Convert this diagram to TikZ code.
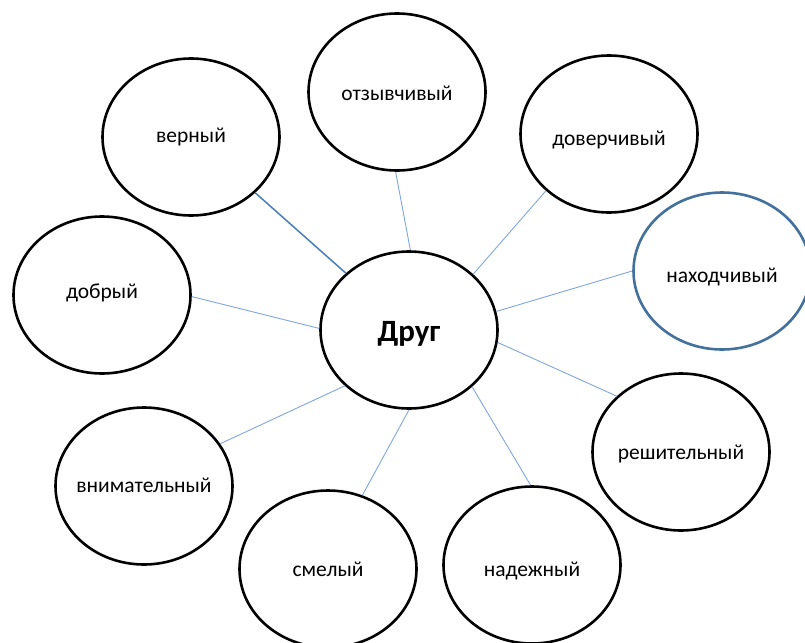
\documentclass[tikz,border=0pt]{standalone}
\usepackage{fontspec}
\setmainfont{Carlito}
\usetikzlibrary{shapes.geometric}
\definecolor{bubbleblue}{HTML}{41719C}
\definecolor{linkdark}{HTML}{4A7EBB}
\definecolor{linklight}{HTML}{7FA7DD}
\newcommand{\bubbletext}[2][0pt]{\raisebox{#1}{\makebox[0pt][c]{#2}}}
\tikzset{
  bubble/.style={ellipse, draw=black, line width=2.6pt, minimum width=177pt, minimum height=157pt, inner sep=0pt, fill=white, text height=15pt, text depth=4.5pt, font=\fontsize{21.5}{25}\selectfont},
  hub/.style={bubble, text height=20pt, text depth=5pt, font=\fontsize{31}{36}\selectfont\bfseries},
  link/.style={draw=linklight, line width=0.9pt},
  strong link/.style={draw=linkdark, line width=1.5pt}
}
\begin{document}
\begin{tikzpicture}[x=1pt,y=-1pt]
\clip (0,0) rectangle (805,642);
\fill[white] (0,0) rectangle (805,642);
\node[hub] (drug) at (409,330) {\bubbletext[-4pt]{Друг}};
\node[bubble] (otz) at (397,92) {\bubbletext[-3pt]{отзывчивый}};
\node[bubble] (ver) at (191,137) {\bubbletext{верный}};
\node[bubble] (dov) at (609,134) {\bubbletext[-6pt]{доверчивый}};
\node[bubble, draw=bubbleblue] (nah) at (722,271) {\bubbletext[-6pt]{находчивый}};
\node[bubble] (dob) at (102,295) {\bubbletext[2pt]{добрый}};
\node[bubble] (res) at (681,452) {\bubbletext[-2pt]{решительный}};
\node[bubble] (vni) at (144,486) {\bubbletext[-1pt]{внимательный}};
\node[bubble] (sme) at (328,569) {\bubbletext[-2pt]{смелый}};
\node[bubble] (nad) at (532,565) {\bubbletext[-6pt]{надежный}};
\draw[strong link] (ver.-41) -- (drug.138);
\draw[link] (otz.-91) -- (drug.89);
\draw[link] (dov.-138) -- (drug.41);
\draw[link] (nah.180) -- (drug.12);
\draw[link] (dob.-1) -- (drug.179);
\draw[link] (res.139) -- (drug.-8);
\draw[link] (vni.29) -- (drug.-139);
\draw[link] (sme.65) -- (drug.-90);
\draw[link] (nad.91) -- (drug.-42);
\end{tikzpicture}
\end{document}
